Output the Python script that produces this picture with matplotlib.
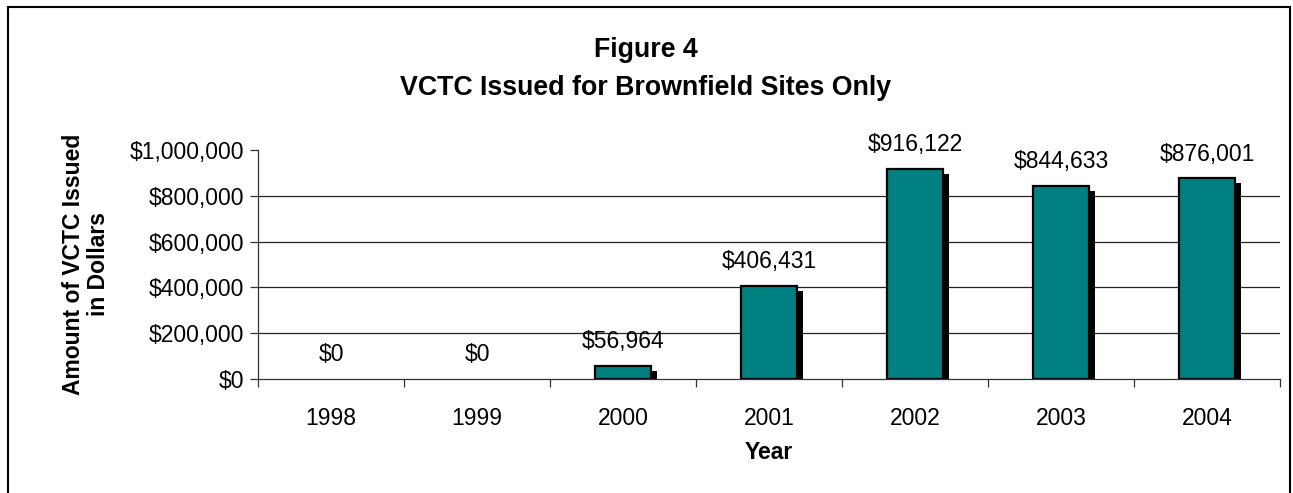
import matplotlib
matplotlib.use("Agg")
import matplotlib.pyplot as plt
import matplotlib.patheffects as pe
from matplotlib.patches import Rectangle
from matplotlib.ticker import FuncFormatter, FixedLocator
import numpy as np

plt.rcParams['font.family'] = ['Liberation Sans', 'DejaVu Sans']

years = ['1998', '1999', '2000', '2001', '2002', '2003', '2004']
amounts = [0, 0, 56964, 406431, 916122, 844633, 876001]

fig = plt.figure(figsize=(12.93, 4.93), dpi=100)
ax = fig.add_axes([258 / 1293, 1 - 379 / 493, 1022 / 1293, 229 / 493])

x = np.arange(len(years))
shadow = pe.withSimplePatchShadow(offset=(4.3, -3.6), shadow_rgbFace='black', alpha=1.0)
# zero bars have nothing to draw, so no outline for them
edge_w = [1.6 if v > 0 else 0 for v in amounts]
bars = ax.bar(x, amounts, width=0.39, color='#008080', edgecolor='black',
              linewidth=edge_w, zorder=3, path_effects=[shadow])

for xi, v in zip(x, amounts):
    ax.annotate('${:,.0f}'.format(v), (xi, v), xytext=(0, 17.5), textcoords='offset points',
                ha='center', va='center', fontsize=16.5)

ax.set_xlim(-0.5, len(years) - 0.5)
ax.set_ylim(0, 1000000)
ax.set_yticks(np.arange(0, 1000001, 200000))
ax.yaxis.set_major_formatter(FuncFormatter(lambda v, p: '${:,.0f}'.format(v)))
for gy in [200000, 400000, 600000, 800000]:
    ax.axhline(gy, color='#222222', linewidth=0.9, zorder=1)

ax.set_xticks(x)
ax.set_xticklabels(years)
ax.xaxis.set_minor_locator(FixedLocator(np.arange(-0.5, len(years), 1.0)))
ax.tick_params(axis='x', which='major', length=0, pad=20, labelsize=16.5)
ax.tick_params(axis='x', which='minor', length=6, width=0.9, color='#333333')
ax.tick_params(axis='y', length=6, width=0.9, color='#333333', labelsize=16.5, pad=4)

for s in ['top', 'right']:
    ax.spines[s].set_visible(False)
for s in ['left', 'bottom']:
    ax.spines[s].set_color('#333333')
    ax.spines[s].set_linewidth(0.9)

ax.set_xlabel('Year', fontsize=16.5, fontweight='bold', labelpad=8)
ax.set_ylabel('Amount of VCTC Issued\nin Dollars', fontsize=16.5, fontweight='bold',
              labelpad=14, linespacing=1.1)

fig.text(646 / 1293, 1 - 50 / 493, 'Figure 4', ha='center', va='center',
         fontsize=19.3, fontweight='bold')
fig.text(646 / 1293, 1 - 88 / 493, 'VCTC Issued for Brownfield Sites Only', ha='center',
         va='center', fontsize=19.3, fontweight='bold')

fig.patches.append(Rectangle((8 / 1293, -0.05), 1282 / 1293, 1.05 - 7 / 493,
                             transform=fig.transFigure, fill=False,
                             edgecolor='black', linewidth=1.5))

fig.savefig('out.png', dpi=100)
